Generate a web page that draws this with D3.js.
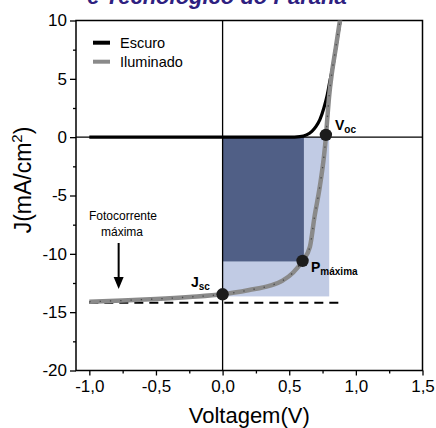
<!DOCTYPE html>
<html>
<head>
<meta charset="utf-8">
<script src="https://cdn.jsdelivr.net/npm/d3@7"></script>
<style>
  body { margin: 0; background: #fff; }
  text { font-family: "Liberation Sans", Arial, sans-serif; }
</style>
</head>
<body>
<div id="chart"></div>
<script>
// curva escura (V, J)
var darkV = [-1.0, 0.0, 0.5, 0.58, 0.63, 0.67, 0.7, 0.73, 0.76, 0.785, 0.805, 0.825, 0.85, 0.88, 0.89];
var darkJ = [0, 0, 0, 0.05, 0.2, 0.5, 0.9, 1.5, 2.5, 3.6, 4.8, 5.9, 7.7, 9.8, 10.5];

// curva iluminada (V, J)
var lightV = [-1.0, -0.75, -0.5, -0.25, 0.0, 0.2, 0.35, 0.45, 0.53, 0.6, 0.655, 0.69, 0.73, 0.76, 0.775, 0.785, 0.8, 0.82, 0.85, 0.878, 0.89];
var lightJ = [-14.1, -14.0, -13.87, -13.7, -13.47, -13.1, -12.75, -12.3, -11.6, -10.6, -9.4, -6.8, -4.2, -1.7, 0, 1.5, 3.6, 5.5, 7.7, 9.8, 10.6];

// pontos caracteristicos
var pointNames = ["Jsc", "Pmax", "Voc"];
var pointV = [0.0, 0.6, 0.775];
var pointJ = [-13.47, -10.6, 0.2];

var jDashed = -14.2;       // fotocorrente maxima
var dashedRange = [-1.0, 0.9];
var vocRect = 0.8, jscRect = -13.65;
var vmpRect = 0.61, jmpRect = -10.65;
var arrowV = -0.78;

var xTicks = [-1.0, -0.5, 0.0, 0.5, 1.0, 1.5];
var xMinor = [-0.75, -0.25, 0.25, 0.75, 1.25];
var yTicks = [10, 5, 0, -5, -10, -15, -20];
var yMinor = [7.5, 2.5, -2.5, -7.5, -12.5, -17.5];

var width = 436, height = 428;
var mLeft = 76, mRight = 422.5, mTop = 20.5, mBottom = 370.5;

var svg = d3.select("#chart").append("svg")
  .attr("width", width).attr("height", height);

var x = d3.scaleLinear().domain([-1.1, 1.5]).range([mLeft, mRight]);
var y = d3.scaleLinear().domain([-20, 10]).range([mBottom, mTop]);

svg.append("defs").append("clipPath").attr("id", "plot")
  .append("rect").attr("x", mLeft).attr("y", mTop)
  .attr("width", mRight - mLeft).attr("height", mBottom - mTop);

// titulo cortado
svg.append("text")
  .attr("x", 217).attr("y", 3.5)
  .attr("text-anchor", "middle")
  .style("font-size", "22px").style("font-weight", "bold").style("font-style", "italic")
  .attr("fill", "#2e2080")
  .text("e Tecnológico do Paraná");

// retangulos de potencia
svg.append("rect")
  .attr("x", x(0)).attr("y", y(0))
  .attr("width", x(vocRect) - x(0)).attr("height", y(jscRect) - y(0))
  .attr("fill", "#c1cbe4");
svg.append("rect")
  .attr("x", x(0)).attr("y", y(0))
  .attr("width", x(vmpRect) - x(0)).attr("height", y(jmpRect) - y(0))
  .attr("fill", "#505f86");

// eixos
var xAxis = svg.append("g").attr("transform", "translate(0," + mBottom + ")");
xAxis.call(d3.axisBottom(x).tickValues(xTicks).tickSize(5).tickPadding(4)
  .tickFormat(function (d) { return d.toFixed(1).replace(".", ","); }));
xAxis.selectAll("text").style("font-size", "17px").attr("fill", "#000");
xAxis.select(".domain").remove();
svg.append("g").attr("transform", "translate(0," + mBottom + ")")
  .call(d3.axisBottom(x).tickValues(xMinor).tickSize(3).tickFormat(""))
  .select(".domain").remove();

var yAxis = svg.append("g").attr("transform", "translate(" + mLeft + ",0)");
yAxis.call(d3.axisLeft(y).tickValues(yTicks).tickSize(6).tickPadding(3)
  .tickFormat(function (d) { return String(d); }));
yAxis.selectAll("text").style("font-size", "17px").attr("fill", "#000");
yAxis.select(".domain").remove();
svg.append("g").attr("transform", "translate(" + mLeft + ",0)")
  .call(d3.axisLeft(y).tickValues(yMinor).tickSize(3).tickFormat(""))
  .select(".domain").remove();
svg.selectAll(".tick line").attr("stroke", "#000").attr("stroke-width", 1.3);

// moldura e linhas zero
svg.append("rect")
  .attr("x", mLeft).attr("y", mTop)
  .attr("width", mRight - mLeft).attr("height", mBottom - mTop)
  .attr("fill", "none").attr("stroke", "#000").attr("stroke-width", 1.5);
svg.append("line")
  .attr("x1", x(0)).attr("x2", x(0)).attr("y1", mTop).attr("y2", mBottom)
  .attr("stroke", "#000").attr("stroke-width", 1.3);
svg.append("line")
  .attr("x1", mLeft).attr("x2", mRight).attr("y1", y(0)).attr("y2", y(0))
  .attr("stroke", "#000").attr("stroke-width", 1.3);

// linha tracejada
svg.append("line")
  .attr("x1", x(dashedRange[0])).attr("x2", x(dashedRange[1]))
  .attr("y1", y(jDashed)).attr("y2", y(jDashed))
  .attr("stroke", "#000").attr("stroke-width", 2)
  .attr("stroke-dasharray", "9,6");

var line = d3.line()
  .x(function (d) { return x(d[0]); })
  .y(function (d) { return y(d[1]); })
  .curve(d3.curveMonotoneX);

var curves = svg.append("g").attr("clip-path", "url(#plot)");

curves.append("path")
  .datum(darkV.map(function (v, i) { return [v, darkJ[i]]; }))
  .attr("d", line).attr("fill", "none")
  .attr("stroke", "#000").attr("stroke-width", 3.2);

var lightData = lightV.map(function (v, i) { return [v, lightJ[i]]; });
curves.append("path")
  .datum(lightData)
  .attr("d", line).attr("fill", "none")
  .attr("stroke", "#8a8a8a").attr("stroke-width", 4.5);
curves.append("path")
  .datum(lightData)
  .attr("d", line).attr("fill", "none")
  .attr("stroke", "#4a4a4a").attr("stroke-width", 1.3)
  .attr("stroke-dasharray", "1.3,9");

// pontos
svg.selectAll(".pt")
  .data(pointNames)
  .enter().append("circle")
  .attr("class", "pt")
  .attr("cx", function (d, i) { return x(pointV[i]); })
  .attr("cy", function (d, i) { return y(pointJ[i]); })
  .attr("r", 6.2)
  .attr("fill", "#1c1c1c");

function label(px, py, main, sub) {
  var t = svg.append("text").attr("x", px).attr("y", py)
    .style("font-weight", "bold").attr("fill", "#000");
  t.append("tspan").style("font-size", "14px").text(main);
  t.append("tspan").style("font-size", "10px").attr("dy", 3).text(sub);
}
label(335, 130, "V", "oc");
label(191, 287, "J", "sc");
label(311, 272, "P", "máxima");

// fotocorrente maxima
svg.append("text").attr("x", 123).attr("y", 220)
  .attr("text-anchor", "middle").style("font-size", "12px").text("Fotocorrente");
svg.append("text").attr("x", 122).attr("y", 236)
  .attr("text-anchor", "middle").style("font-size", "12px").text("máxima");
svg.append("line")
  .attr("x1", x(arrowV)).attr("x2", x(arrowV))
  .attr("y1", 243).attr("y2", 280)
  .attr("stroke", "#000").attr("stroke-width", 2);
svg.append("path")
  .attr("d", "M" + (x(arrowV) - 5) + ",277 L" + (x(arrowV) + 5) + ",277 L" + x(arrowV) + ",289 Z")
  .attr("fill", "#000");

// legenda
var legend = [["Escuro", "#000", 42.7], ["Iluminado", "#8a8a8a", 61.7]];
legend.forEach(function (d) {
  svg.append("line")
    .attr("x1", 93).attr("x2", 110).attr("y1", d[2]).attr("y2", d[2])
    .attr("stroke", d[1]).attr("stroke-width", 4);
  svg.append("text").attr("x", 120).attr("y", d[2] + 5)
    .style("font-size", "14.5px").text(d[0]);
});

// titulos dos eixos
svg.append("text")
  .attr("x", (mLeft + mRight) / 2).attr("y", 423)
  .attr("text-anchor", "middle").style("font-size", "22px")
  .text("Voltagem(V)");

var yl = svg.append("text")
  .attr("transform", "translate(31,180) rotate(-90)")
  .attr("text-anchor", "middle").style("font-size", "23px");
yl.append("tspan").text("J(mA/cm");
yl.append("tspan").attr("dy", -9).style("font-size", "15px").text("2");
yl.append("tspan").attr("dy", 9).text(")");
</script>
</body>
</html>
